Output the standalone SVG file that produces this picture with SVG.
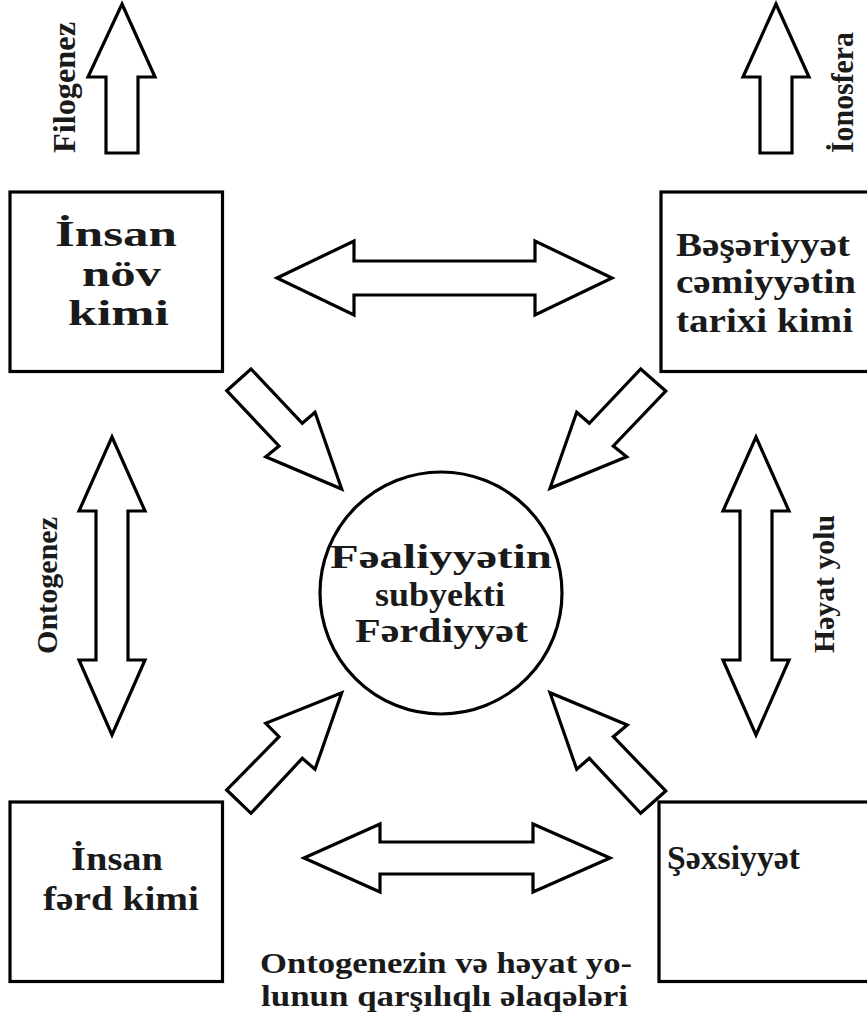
<svg xmlns="http://www.w3.org/2000/svg" width="867" height="1018" viewBox="0 0 867 1018">
<style>
.bx{fill:#fff;stroke:#000;stroke-width:3.2}
.ar{fill:#fff;stroke:#000;stroke-width:3.2;stroke-linejoin:miter}
text{font-family:"Liberation Serif","Times New Roman","DejaVu Serif",serif;font-weight:bold;fill:#1a1a1a}
.t36{font-size:36px}
.t34{font-size:34px}
.t32{font-size:32px}
.t30{font-size:30px}
</style>
<rect width="867" height="1018" fill="#fff"/>
<g id="connectors">
<polygon class="ar" points="122,4 155,77 138,77 138,153 106,153 106,77 88,77"/>
<polygon class="ar" points="776,4 809,77 792,77 792,153 760,153 760,77 743,77"/>
<polygon class="ar" points="112,437 145,511 128,511 128,660 145,660 112,735 79,660 96,660 96,511 79,511"/>
<polygon class="ar" points="756,437 789,511 772,511 772,660 789,660 756,735 723,660 740,660 740,511 723,511"/>
<polygon class="ar" points="277,278 354,241 354,261 535,261 535,241 612,278 535,315 535,295 354,295 354,315"/>
<polygon class="ar" points="304,858 380,824 380,842 533,842 533,824 610,858 533,892 533,874 380,874 380,892"/>
<polygon class="ar" points="226.7,390.7 251,369 302.3,423.3 315,412.3 341.7,489 265.7,456.7 279,446"/>
<polygon class="ar" points="665.7,391 640.7,369 589.3,423.3 576.7,412.3 550,488.3 626.7,456.7 613.3,446"/>
<polygon class="ar" points="226.7,790 251,813.3 302.3,758.3 315,769.3 341.7,692.7 265.7,723.3 279,736.7"/>
<polygon class="ar" points="665.7,791 640.7,813.3 589.3,758.3 576.7,769.3 550,692.7 627.3,725 613.3,736.7"/>
<text class="t32" transform="translate(75,153) rotate(-90)" textLength="131" lengthAdjust="spacingAndGlyphs">Filogenez</text>
<text class="t32" transform="translate(853,153) rotate(-90)" textLength="121" lengthAdjust="spacingAndGlyphs">İonosfera</text>
<text class="t30" transform="translate(57,654) rotate(-90)" textLength="137" lengthAdjust="spacingAndGlyphs">Ontogenez</text>
<text class="t30" transform="translate(834,653) rotate(-90)" textLength="138" lengthAdjust="spacingAndGlyphs">Həyat yolu</text>
<text class="t30" x="260" y="973" textLength="372" lengthAdjust="spacingAndGlyphs">Ontogenezin və həyat yo-</text>
<text class="t30" x="261" y="1006" textLength="367" lengthAdjust="spacingAndGlyphs">lunun qarşılıqlı əlaqələri</text>
</g>
<g id="node-insan-nov">
<rect class="bx" x="10" y="192" width="212.5" height="179.5"/>
<text class="t36" x="55" y="246" textLength="122" lengthAdjust="spacingAndGlyphs">İnsan</text>
<text class="t36" x="82" y="286" textLength="79" lengthAdjust="spacingAndGlyphs">növ</text>
<text class="t36" x="68" y="325" textLength="101" lengthAdjust="spacingAndGlyphs">kimi</text>
</g>
<g id="node-beseriyyet">
<rect class="bx" x="661" y="192" width="210" height="179.5"/>
<text class="t34" x="676" y="256" textLength="174" lengthAdjust="spacingAndGlyphs">Bəşəriyyət</text>
<text class="t34" x="676" y="293" textLength="180" lengthAdjust="spacingAndGlyphs">cəmiyyətin</text>
<text class="t34" x="676" y="332" textLength="177" lengthAdjust="spacingAndGlyphs">tarixi kimi</text>
</g>
<g id="node-center">
<circle class="bx" cx="441" cy="593" r="121"/>
<text class="t34" x="330" y="568" textLength="222" lengthAdjust="spacingAndGlyphs">Fəaliyyətin</text>
<text class="t34" x="375" y="606" textLength="130" lengthAdjust="spacingAndGlyphs">subyekti</text>
<text class="t34" x="355" y="642" textLength="173" lengthAdjust="spacingAndGlyphs">Fərdiyyət</text>
</g>
<g id="node-insan-ferd">
<rect class="bx" x="10" y="802" width="212.5" height="179.5"/>
<text class="t34" x="71" y="870" textLength="92" lengthAdjust="spacingAndGlyphs">İnsan</text>
<text class="t34" x="43" y="910" textLength="156" lengthAdjust="spacingAndGlyphs">fərd kimi</text>
</g>
<g id="node-sexsiyyet">
<rect class="bx" x="659" y="802" width="212" height="179.5"/>
<text class="t34" x="667" y="869" textLength="133" lengthAdjust="spacingAndGlyphs">Şəxsiyyət</text>
</g>
</svg>
